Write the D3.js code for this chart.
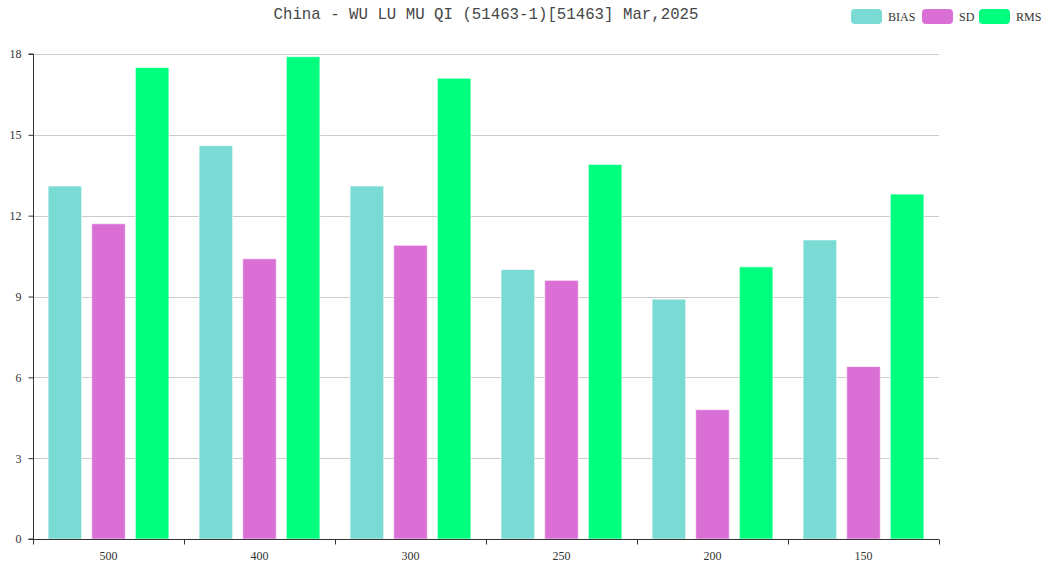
<!DOCTYPE html>
<html>
<head>
<meta charset="utf-8">
<script src="https://cdn.jsdelivr.net/npm/d3@7"></script>
<style>
  html, body { margin: 0; padding: 0; background: #fff; }
  svg { display: block; }
</style>
</head>
<body>
<svg id="chart" width="1047" height="567"></svg>
<script>
// Pressure levels (hPa) and statistics per level
const levels = ["500", "400", "300", "250", "200", "150"];
const seriesNames = ["BIAS", "SD", "RMS"];
const bias = [13.1, 14.6, 13.1, 10.0, 8.9, 11.1];
const sd   = [11.7, 10.4, 10.9, 9.6, 4.8, 6.4];
const rms  = [17.5, 17.9, 17.1, 13.9, 10.1, 12.8];
const yTicks = [0, 3, 6, 9, 12, 15, 18];
const titleText = "China - WU LU MU QI (51463-1)[51463] Mar,2025";

const colors = { BIAS: "#7adbd4", SD: "#da70d6", RMS: "#00ff7f" };
const seriesData = { BIAS: bias, SD: sd, RMS: rms };

const svg = d3.select("#chart");
const margin = { left: 33, right: 108, top: 54, bottom: 28 };
const W = 1047, H = 567;
const x0 = margin.left, x1 = W - margin.right;
const yTop = margin.top, yBot = H - margin.bottom;

const x = d3.scaleBand().domain(levels).range([x0, x1]).paddingInner(0).paddingOuter(0);
const y = d3.scaleLinear().domain([0, 18]).range([yBot, yTop]);

// Bars inside each band: 20% category gap, 30% gap between bars
const bandW = x.bandwidth();
const catGap = bandW * 0.2;
const barW = (bandW - catGap) / (3 + 2 * 0.3);
const barGap = barW * 0.3;
const inner = d3.scaleBand().domain(seriesNames)
  .range([catGap / 2, bandW - catGap / 2]).paddingInner(barGap / (barW + barGap)).paddingOuter(0);

// Grid lines
svg.append("g").selectAll("line").data(yTicks.filter(t => t > 0)).join("line")
  .attr("x1", x0).attr("x2", x1)
  .attr("y1", d => Math.round(y(d)) + 0.5).attr("y2", d => Math.round(y(d)) + 0.5)
  .attr("stroke", "#cccccc").attr("stroke-width", 1);

// Bars
const groups = svg.append("g").selectAll("g").data(levels).join("g")
  .attr("transform", d => `translate(${x(d)},0)`);
groups.selectAll("rect")
  .data((lvl, i) => seriesNames.map(s => ({ s, v: seriesData[s][i] })))
  .join("rect")
  .attr("x", d => inner(d.s))
  .attr("width", inner.bandwidth())
  .attr("y", d => y(d.v))
  .attr("height", d => y(0) - y(d.v))
  .attr("fill", d => colors[d.s])
  .attr("stroke", "rgba(255,255,255,0.6)")
  .attr("stroke-width", 1);

const fontSerif = "'Liberation Serif', 'DejaVu Serif', serif";

// Y axis
const yAxis = d3.axisLeft(y).tickValues(yTicks).tickSize(5).tickPadding(7).tickFormat(d3.format("d"));
const gy = svg.append("g").attr("transform", `translate(${x0 + 0.5},0)`).call(yAxis);
gy.select(".domain").attr("stroke", "#333").attr("d", `M-5,${yTop}H0V${yBot}H-5`);
gy.selectAll(".tick line").attr("stroke", "#333");
gy.selectAll(".tick text").attr("fill", "#333").style("font-family", fontSerif).style("font-size", "12px");

// X axis with ticks on category boundaries
const xAxis = d3.axisBottom(x).tickSize(0).tickPadding(12);
const gx = svg.append("g").attr("transform", `translate(0,${yBot + 0.5})`).call(xAxis);
gx.select(".domain").attr("stroke", "#333").attr("d", `M${x0},0H${x1}`);
gx.selectAll(".tick text").attr("fill", "#333").style("font-family", fontSerif).style("font-size", "12px");
const bounds = levels.map(l => x(l)).concat([x1]);
gx.append("g").selectAll("line").data(bounds).join("line")
  .attr("x1", d => Math.round(d) + 0.5).attr("x2", d => Math.round(d) + 0.5)
  .attr("y1", 0).attr("y2", 5).attr("stroke", "#333");

// Title
svg.append("text")
  .attr("x", (x0 + x1) / 2).attr("y", 19)
  .attr("text-anchor", "middle")
  .attr("textLength", 425).attr("lengthAdjust", "spacingAndGlyphs")
  .style("font-family", "'Liberation Mono', 'DejaVu Sans Mono', monospace")
  .style("font-size", "17px")
  .attr("fill", "#464646")
  .text(titleText);

// Legend
const legendX = [851, 922, 979];
const legend = svg.append("g").selectAll("g").data(seriesNames).join("g")
  .attr("transform", (d, i) => `translate(${legendX[i]},9)`);
legend.append("rect").attr("width", 31).attr("height", 15).attr("rx", 4)
  .attr("fill", d => colors[d]);
legend.append("text").attr("x", 37).attr("y", 12)
  .style("font-family", fontSerif).style("font-size", "12px")
  .attr("fill", "#333").text(d => d);
</script>
</body>
</html>
